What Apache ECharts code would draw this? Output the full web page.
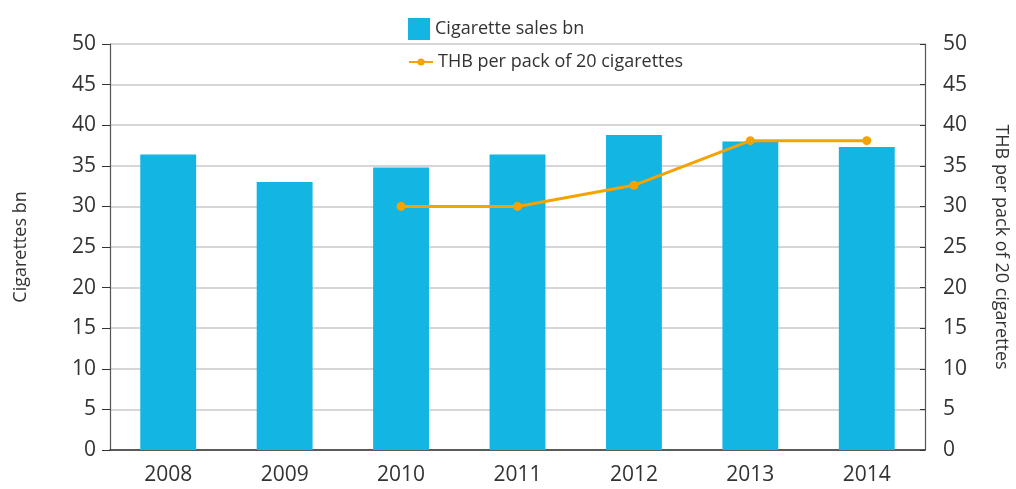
<!DOCTYPE html>
<html>
<head>
<meta charset="utf-8">
<script src="https://cdn.jsdelivr.net/npm/echarts@6/dist/echarts.min.js"></script>
<style>
html,body{margin:0;padding:0;background:#fff;}
#chart{width:1016px;height:489px;}
</style>
</head>
<body>
<div id="chart"></div>
<script>
const years = ['2008','2009','2010','2011','2012','2013','2014'];
const salesBn = [36.4, 33.0, 34.8, 36.4, 38.8, 38.0, 37.3];
const thbPerPack = [null, null, 30.0, 30.0, 32.6, 38.1, 38.1];
const yTicks = [0, 50, 5];

const FONT = 'Open Sans';
const TXT = '#333';
const chart = echarts.init(document.getElementById('chart'));
chart.setOption({
  animation: false,
  textStyle: {fontFamily: FONT},
  legend: [
    {
      left: 403, top: 13,
      itemWidth: 22, itemHeight: 22, itemGap: 8,
      textStyle: {fontFamily: FONT, fontSize: 18, color: TXT},
      data: [{name: 'Cigarette sales bn', icon: 'rect'}]
    },
    {
      left: 403, top: 48,
      itemWidth: 24, itemHeight: 9, itemGap: 8,
      textStyle: {fontFamily: FONT, fontSize: 18, color: TXT},
      data: [{name: 'THB per pack of 20 cigarettes'}]
    }
  ],
  grid: {left: 110, right: 91, top: 44, bottom: 39, containLabel: false, outerBoundsMode: 'none'},
  xAxis: {
    type: 'category',
    data: years,
    axisLine: {lineStyle: {color: '#333', width: 1.5}},
    axisTick: {length: 10, lineStyle: {color: '#333'}},
    axisLabel: {color: TXT, fontSize: 21, margin: 15, fontFamily: FONT}
  },
  yAxis: [
    {
      type: 'value', min: yTicks[0], max: yTicks[1], interval: yTicks[2],
      name: 'Cigarettes bn', nameLocation: 'middle', nameGap: 80,
      nameTextStyle: {color: TXT, fontSize: 18, fontFamily: FONT},
      axisLine: {show: true, lineStyle: {color: '#555', width: 1.2}},
      axisTick: {show: true, length: 8, lineStyle: {color: '#333'}},
      axisLabel: {color: TXT, fontSize: 21, margin: 14, fontFamily: FONT},
      splitLine: {lineStyle: {color: '#c8c8c8', width: 1.5}}
    },
    {
      type: 'value', min: yTicks[0], max: yTicks[1], interval: yTicks[2],
      position: 'right',
      name: 'THB per pack of 20 cigarettes', nameLocation: 'middle', nameGap: 67, nameRotate: -90,
      nameTextStyle: {color: TXT, fontSize: 18, fontFamily: FONT},
      axisLine: {show: true, lineStyle: {color: '#555', width: 1.2}},
      axisTick: {show: true, inside: true, length: 5, lineStyle: {color: '#333'}},
      axisLabel: {color: TXT, fontSize: 21, margin: 18, fontFamily: FONT},
      splitLine: {show: false}
    }
  ],
  series: [
    {
      name: 'Cigarette sales bn', type: 'bar', data: salesBn,
      barWidth: '48%', yAxisIndex: 0,
      itemStyle: {color: '#13b5e2'}
    },
    {
      name: 'THB per pack of 20 cigarettes', type: 'line', data: thbPerPack,
      yAxisIndex: 1, symbol: 'circle', symbolSize: 9,
      lineStyle: {color: '#f5a300', width: 3},
      itemStyle: {color: '#f5a300'}
    }
  ]
});
</script>
</body>
</html>
